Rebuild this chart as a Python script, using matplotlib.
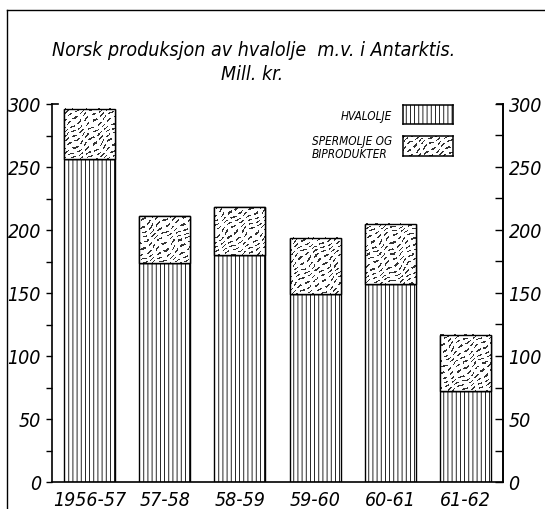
import numpy as np
import matplotlib
matplotlib.use('Agg')
import matplotlib.pyplot as plt
from matplotlib.patches import Rectangle
from matplotlib.lines import Line2D

# data (mill. kr.)
seasons = ['1956-57', '57-58', '58-59', '59-60', '60-61', '61-62']
hvalolje = [256, 174, 180, 149, 157, 72]
spermolje = [40, 37, 38, 45, 48, 45]
yticks = [0, 50, 100, 150, 200, 250, 300]

plt.rcParams['font.family'] = ['DejaVu Sans']
plt.rcParams['hatch.linewidth'] = 0.6


def worms(w, h, phase=0.0):
    """fine wavy dashed texture used for the spermolje part"""
    yy, xx = np.mgrid[0:h, 0:w].astype(float)
    s = 1.6 * np.sin(0.33 * xx + phase) + 1.4 * np.sin(0.27 * yy + 0.7 * phase) + 0.9 * np.sin(0.11 * (xx - yy))
    f = np.sin(1.45 * (0.6 * xx + 0.8 * yy) + s)
    g = np.sin(0.75 * (0.8 * xx - 0.6 * yy) + 1.5 * np.sin(0.21 * yy + 0.17 * xx + phase))
    dark = (f > 0.6) & (g > -0.35)
    return np.where(dark, 0.2, 1.0)


fig = plt.figure(figsize=(5.45, 5.1), dpi=100)
ax = fig.add_axes([52 / 545, 27 / 510, 451 / 545, 378 / 510])
ax.set_xlim(-0.5, len(seasons) - 0.5)
ax.set_ylim(0, 300)

x = np.arange(len(seasons))
ax.bar(x, hvalolje, width=0.68, color='white', edgecolor='black', hatch='||||', linewidth=1, zorder=2)
top = ax.bar(x, spermolje, bottom=hvalolje, width=0.68, color='white', edgecolor='black', linewidth=1, zorder=2)

fig.canvas.draw()
for i, p in enumerate(top):
    bb = p.get_window_extent()
    img = worms(max(int(bb.width), 2), max(int(bb.height), 2), phase=1.7 * i)
    x0, y0 = p.get_xy()
    ax.imshow(img, cmap='gray', vmin=0, vmax=1, interpolation='nearest', aspect='auto',
              extent=(x0, x0 + p.get_width(), y0, y0 + p.get_height()), zorder=2.5, clip_path=p)
    ax.add_patch(Rectangle((x0, y0), p.get_width(), p.get_height(), fill=False, ec='black', lw=1, zorder=3))
ax.set_xlim(-0.5, len(seasons) - 0.5)
ax.set_ylim(0, 300)

# axes styling
ax.spines['top'].set_visible(False)
for s in ['left', 'right', 'bottom']:
    ax.spines[s].set_linewidth(1.2)
ax.set_xticks(x)
ax.set_xticklabels(seasons, fontsize=14, style='italic', fontstretch='condensed')
ax.tick_params(axis='x', length=0, pad=6)
ax.set_yticks(yticks)
ax.set_yticks(np.arange(25, 300, 50), minor=True)
ax.set_yticklabels([str(t) for t in yticks], fontsize=14, style='italic', fontstretch='condensed')
ax.tick_params(axis='y', which='both', direction='out', length=4, width=1, pad=4)

ax2 = ax.twinx()
ax2.set_ylim(0, 300)
ax2.set_yticks(yticks)
ax2.set_yticks(np.arange(25, 300, 50), minor=True)
ax2.set_yticklabels([str(t) for t in yticks], fontsize=14, style='italic', fontstretch='condensed')
ax2.tick_params(axis='y', which='both', direction='in', length=6, width=1, pad=4)
for s in ['top', 'left', 'bottom']:
    ax2.spines[s].set_visible(False)
ax2.spines['right'].set_linewidth(1.2)

# little corner stubs at 300
ax.plot([0, 0.014], [1, 1], transform=ax.transAxes, color='black', lw=1.2, clip_on=False)
ax.plot([0.986, 1], [1, 1], transform=ax.transAxes, color='black', lw=1.2, clip_on=False)

# title
fig.text(254 / 545, 1 - 50 / 510, 'Norsk produksjon av hvalolje  m.v. i Antarktis.',
         ha='center', va='center', fontsize=14, style='italic', fontstretch='condensed')
fig.text(252 / 545, 1 - 74 / 510, 'Mill. kr.', ha='center', va='center', fontsize=14,
         style='italic', fontstretch='condensed')

# legend
lax1 = fig.add_axes([403 / 545, 1 - 125 / 510, 50 / 545, 19 / 510])
lax1.add_patch(Rectangle((0, 0), 1, 1, facecolor='white', edgecolor='black', hatch='||||', lw=0))
lax1.set_xlim(0, 1)
lax1.set_ylim(0, 1)
lax2 = fig.add_axes([403 / 545, 1 - 157 / 510, 50 / 545, 20 / 510])
lax2.imshow(worms(50, 20, phase=0.4), cmap='gray', vmin=0, vmax=1, interpolation='nearest', aspect='auto')
for la in [lax1, lax2]:
    la.set_xticks([])
    la.set_yticks([])
    for s in la.spines.values():
        s.set_linewidth(1.1)
fig.text(392 / 545, 1 - 117 / 510, 'HVALOLJE', ha='right', va='center', fontsize=8.5,
         style='italic', fontstretch='condensed')
fig.text(312 / 545, 1 - 148 / 510, 'SPERMOLJE OG\nBIPRODUKTER', ha='left', va='center',
         fontsize=8.5, style='italic', fontstretch='condensed', linespacing=0.95)

# scan frame
fig.add_artist(Line2D([7 / 545, 7 / 545], [0, 1 - 11 / 510], transform=fig.transFigure, color='black', lw=1))
fig.add_artist(Line2D([7 / 545, 544 / 545], [1 - 11 / 510, 1 - 11 / 510], transform=fig.transFigure, color='black', lw=1))

fig.savefig('out.png', dpi=100)
